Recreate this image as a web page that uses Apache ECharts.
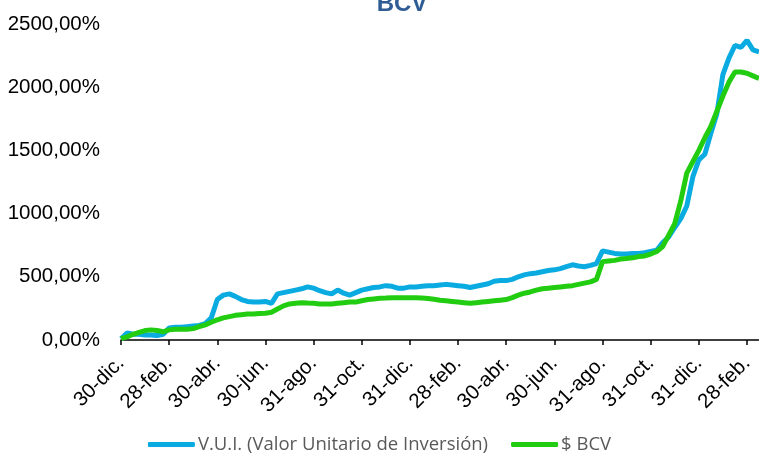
<!DOCTYPE html>
<html>
<head>
<meta charset="utf-8">
<script src="https://cdn.jsdelivr.net/npm/echarts@6/dist/echarts.min.js"></script>
<style>
html,body{margin:0;padding:0;background:#fff;}
#c{width:759px;height:459px;}
</style>
</head>
<body>
<div id="c"></div>
<script>
var tickLabels = ["30-dic.","28-feb.","30-abr.","30-jun.","31-ago.","31-oct.","31-dic.","28-feb.","30-abr.","30-jun.","31-ago.","31-oct.","31-dic.","28-feb."];
var pointsPerTick = 8;
var yTicks = [0, 500, 1000, 1500, 2000, 2500];

var vuiValues = [10,55,45,45,40,40,35,45,95,100,100,105,110,115,130,175,320,355,365,345,320,305,300,300,305,290,365,375,385,395,405,420,410,390,375,365,395,370,355,375,395,405,415,420,430,425,410,410,420,420,425,430,430,435,440,435,430,425,415,425,435,445,465,470,470,480,500,515,525,530,540,550,555,565,580,595,585,580,590,605,705,695,685,680,680,685,685,690,700,710,770,815,890,960,1060,1290,1425,1470,1635,1790,2100,2230,2330,2315,2370,2295,2280];
var bcvValues = [10,25,45,60,75,80,75,65,80,85,85,85,90,105,120,140,160,175,185,195,200,205,205,210,212,220,245,270,285,290,295,292,290,285,285,285,290,295,300,300,310,320,325,330,332,335,335,335,335,335,332,328,322,315,310,305,300,295,290,295,300,305,310,315,320,335,355,370,380,395,405,410,415,420,425,430,440,450,460,480,620,625,630,640,645,650,660,665,680,700,740,830,920,1100,1320,1410,1500,1600,1690,1810,1930,2040,2120,2120,2110,2090,2070];

var seriesNames = ["V.U.I. (Valor Unitario de Inversión)", "$ BCV"];

var categories = vuiValues.map(function(_, i){ return String(i); });

var chart = echarts.init(document.getElementById('c'));
chart.setOption({
  animation: false,
  backgroundColor: '#ffffff',
  title: {
    text: 'BCV',
    left: 397, textAlign: 'center',
    top: -13,
    textStyle: { fontFamily: 'Liberation Sans', fontWeight: 'bold', fontSize: 24, color: '#2F5C94' }
  },
  grid: { left: 121, right: -1, top: 24, bottom: 119, containLabel: false },
  legend: {
    bottom: 0, left: 'center',
    icon: 'roundRect', itemWidth: 47, itemHeight: 5, itemGap: 23,
    textStyle: { fontFamily: 'Open Sans', fontSize: 18.5, color: '#595959', padding: [0,0,0,-2] },
    data: seriesNames
  },
  xAxis: {
    type: 'category',
    data: categories,
    boundaryGap: false,
    axisLine: { lineStyle: { color: '#000', width: 1.5 } },
    axisTick: { show: true, interval: pointsPerTick - 1, length: 5, inside: false, lineStyle: { color: '#000', width: 1.5 } },
    axisLabel: {
      interval: pointsPerTick - 1,
      rotate: 45,
      margin: 20,
      fontFamily: 'Liberation Sans',
      fontSize: 20.5,
      color: '#000',
      formatter: function(v, idx){ return tickLabels[idx / pointsPerTick] || ''; }
    },
    splitLine: { show: false }
  },
  yAxis: {
    type: 'value',
    min: yTicks[0], max: yTicks[yTicks.length-1], interval: 500,
    axisLine: { show: false },
    axisTick: { show: false },
    splitLine: { show: false },
    axisLabel: {
      margin: 21,
      fontFamily: 'Liberation Sans',
      fontSize: 20.5,
      color: '#000',
      formatter: function(v){ return v + ',00%'; }
    }
  },
  series: [
    { name: seriesNames[0], type: 'line', data: vuiValues, showSymbol: false, symbol: 'none',
      lineStyle: { color: '#0AABE0', width: 5 }, itemStyle: { color: '#0AABE0' } },
    { name: seriesNames[1], type: 'line', data: bcvValues, showSymbol: false, symbol: 'none',
      lineStyle: { color: '#22CC11', width: 5 }, itemStyle: { color: '#22CC11' } }
  ]
});
</script>
</body>
</html>
